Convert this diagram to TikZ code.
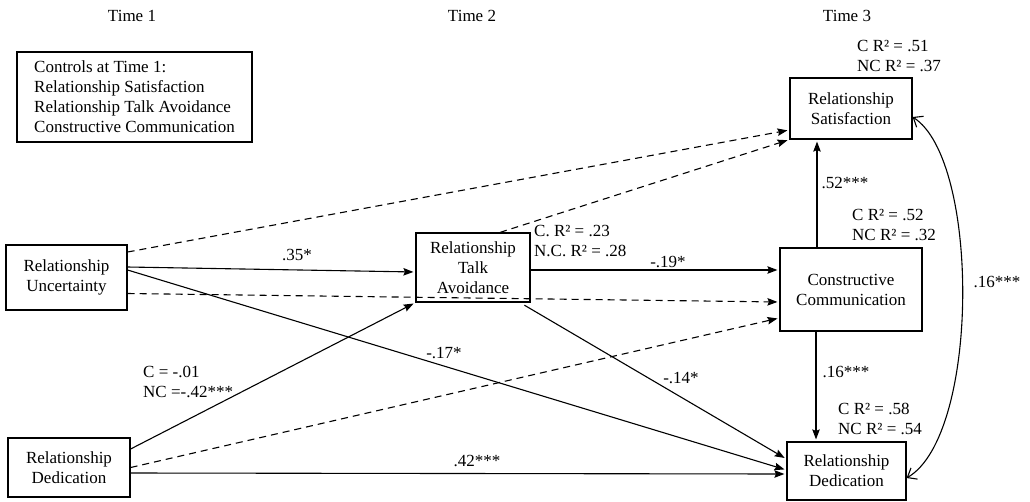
\documentclass[tikz,border=0pt]{standalone}
\usepackage{fontspec}
\setmainfont{Liberation Serif}
\usetikzlibrary{arrows.meta}
\begin{document}
\begin{tikzpicture}[x=1pt,y=1pt,
  font=\fontsize{17}{20}\selectfont,
  box/.style={draw, line width=1.2pt, align=center, inner sep=3pt},
  lbl/.style={inner sep=0pt},
  mlbl/.style={inner sep=0pt, align=left, anchor=west},
  arr/.style={line width=1.1pt, -{Stealth[length=10pt,width=7.5pt,inset=1.5pt]}, shorten >=2pt},
  darr/.style={arr, dash pattern=on 7pt off 5pt},
  barb/.style={line width=1.1pt, {Straight Barb[length=8pt,width=13pt]}-{Straight Barb[length=8pt,width=13pt]}}
]
\useasboundingbox (0,0) rectangle (1030,-501);

% time labels
\node[lbl] (t1) at (132,-16) {Time 1};
\node[lbl] (t2) at (472,-16) {Time 2};
\node[lbl] (t3) at (847,-16) {Time 3};

% boxes
\node[box, align=left, minimum width=235, minimum height=90] (ctrl) at (134.5,-97)
  {Controls at Time 1:\\Relationship Satisfaction\\Relationship Talk Avoidance\\Constructive Communication};
\node[box, minimum width=121, minimum height=65] (ru) at (66.5,-277.5) {Relationship\\Uncertainty};
\node[box, minimum width=114, minimum height=69] (rta) at (473,-267.5) {Relationship\\Talk\\Avoidance};
\node[box, minimum width=142, minimum height=83] (cc) at (851,-289.5) {Constructive\\Communication};
\node[box, minimum width=122, minimum height=61] (rs) at (851,-108.5) {Relationship\\Satisfaction};
\node[box, minimum width=119, minimum height=58] (rdr) at (846.5,-471) {Relationship\\Dedication};
\node[box, minimum width=122, minimum height=59] (rdl) at (69,-467.5) {Relationship\\Dedication};

% dashed paths
\draw[darr] ([yshift=25.5]ru.east) -- ([yshift=-21.5]rs.west);
\draw[darr] ([xshift=27]rta.north) -- (rs.south west);
\draw[darr] ([yshift=-16]ru.east) -- ([yshift=-12.5]cc.west);
\draw[darr] (rdl.east) -- ([yshift=-28.5]cc.west);

% solid paths
\draw[arr] ([yshift=10.5]ru.east) -- ([yshift=-4.5]rta.west);
\draw[arr] ([yshift=-2.5]rta.east) -- ([yshift=19.5]cc.west);
\draw[arr] ([yshift=7.5]ru.east) -- ([yshift=1]rdr.west);
\draw[arr, shorten <=5pt] ([xshift=47]rta.south) -- ([yshift=12]rdr.west);
\draw[arr] ([yshift=18.5]rdl.east) -- (rta.south west);
\draw[arr] ([yshift=-5.5]rdl.east) -- ([yshift=-3]rdr.west);
\draw[arr] ([xshift=-34]cc.north) -- ([xshift=-34]rs.south);
\draw[arr] ([xshift=-35]cc.south) -- ([xshift=-30.5]rdr.north);
\draw[barb] ([yshift=-8.5]rs.east) .. controls (980,-160) and (980,-435) .. ([yshift=-7]rdr.east);

% path labels
\node[lbl] (l35) at (297,-255) {.35*};
\node[lbl] (l19) at (668,-262) {-.19*};
\node[lbl] (l17) at (444,-353) {-.17*};
\node[lbl] (l14) at (681,-378) {-.14*};
\node[lbl] (l42) at (477,-461) {.42***};
\node[lbl] (l52) at (845,-183) {.52***};
\node[lbl] (l16a) at (846,-372) {.16***};
\node[lbl] (l16b) at (997,-282) {.16***};
\node[mlbl] (lcnc) at (143,-382) {C = -.01\\NC =-.42***};

% R-squared labels
\node[mlbl] (r2rs) at (857,-55.5) {C R² = .51\\NC R² = .37};
\node[mlbl] (r2cc) at (852,-224.5) {C R² = .52\\NC R² = .32};
\node[mlbl] (r2rd) at (838,-419) {C R² = .58\\NC R² = .54};
\node[mlbl] (r2rta) at (534,-241) {C. R² = .23\\N.C. R² = .28};
\end{tikzpicture}
\end{document}
